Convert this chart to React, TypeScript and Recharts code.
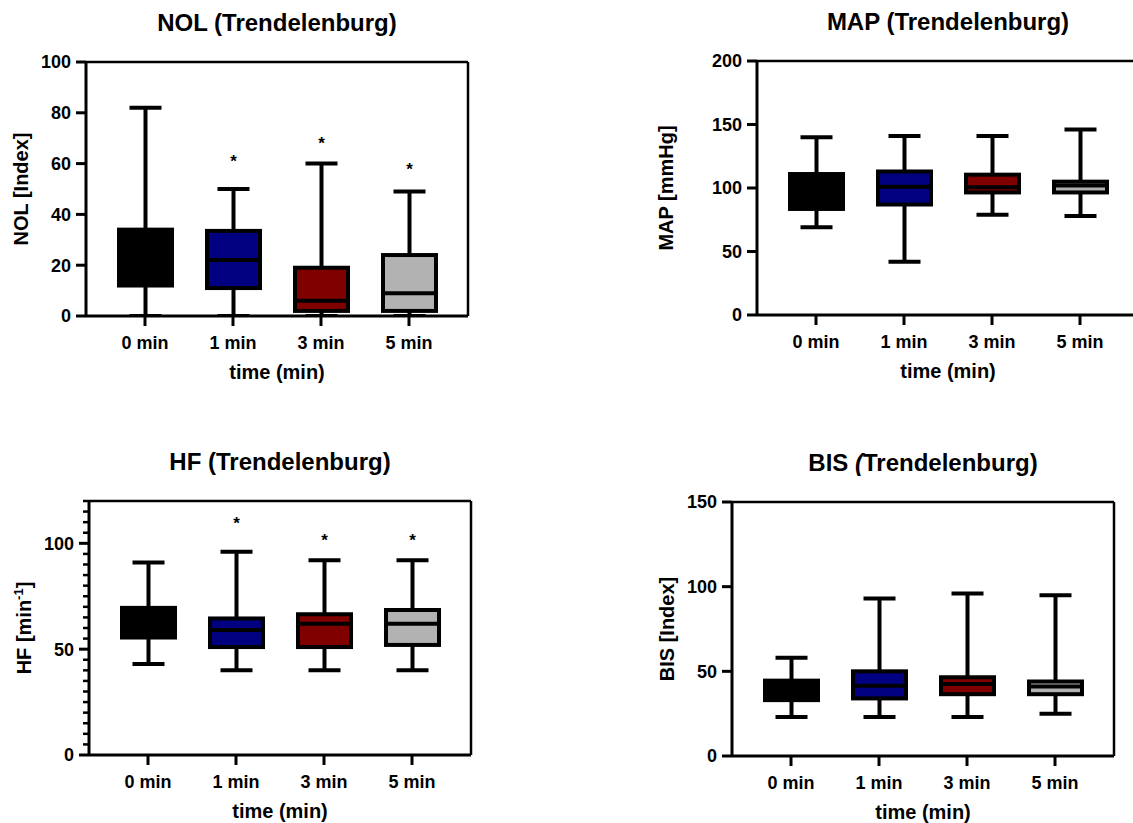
import React from 'react';
import { ComposedChart, Bar, XAxis, YAxis } from 'recharts';

const FONT = '"Liberation Sans", Arial, Helvetica, sans-serif';

const categories = ['0 min', '1 min', '3 min', '5 min'];
const boxFills = ['#000000', '#000080', '#800000', '#b2b2b2'];

// NOL (Trendelenburg)
const nolMin = [0, 0, 0, 0];
const nolQ1 = [12, 11, 2, 2];
const nolMedian = [22, 22, 6, 9];
const nolQ3 = [34, 33.5, 19, 24];
const nolMax = [82, 50, 60, 49];
const nolStar = [null, 62.7, 69.7, 59.4];
const nolTicks = [0, 20, 40, 60, 80, 100];

// MAP (Trendelenburg)
const mapMin = [69, 42, 79, 78];
const mapQ1 = [83.5, 87, 96.5, 96.5];
const mapMedian = [98, 101, 100.5, 102];
const mapQ3 = [111, 113, 110.5, 105];
const mapMax = [140, 141, 141, 146];
const mapStar = [null, null, null, null];
const mapTicks = [0, 50, 100, 150, 200];

// HF (Trendelenburg)
const hfMin = [43, 40, 40, 40];
const hfQ1 = [55.5, 51, 51, 52];
const hfMedian = [62, 59, 62, 62];
const hfQ3 = [69.5, 64.5, 66.5, 68.5];
const hfMax = [91, 96, 92, 92];
const hfStar = [null, 111.5, 103.3, 103.3];
const hfTicks = [0, 5, 10, 15, 20, 25, 30, 35, 40, 45, 50, 55, 60, 65, 70, 75, 80, 85, 90, 95, 100, 105, 110, 115, 120];
const hfMajorTicks = [0, 50, 100];

// BIS (Trendelenburg)
const bisMin = [23, 23, 23, 25];
const bisQ1 = [33, 34, 36.5, 36.5];
const bisMedian = [39, 41.5, 42.5, 41];
const bisQ3 = [44.5, 50, 46.5, 44];
const bisMax = [58, 93, 96, 95];
const bisStar = [null, null, null, null];
const bisTicks = [0, 50, 100, 150];

type Row = {
  cat: string;
  min: number;
  q1: number;
  med: number;
  q3: number;
  max: number;
  star: number | null;
  fill: string;
};

function buildRows(
  min: number[],
  q1: number[],
  med: number[],
  q3: number[],
  max: number[],
  star: (number | null)[]
): Row[] {
  return categories.map((cat, i) => ({
    cat,
    min: min[i],
    q1: q1[i],
    med: med[i],
    q3: q3[i],
    max: max[i],
    star: star[i],
    fill: boxFills[i],
  }));
}

function BoxShape(props: any) {
  const { x, y, width, height, payload } = props;
  const { min, q1, med, q3, max, star, fill } = payload as Row;
  const top = Math.min(y, y + height);
  const h = Math.abs(height);
  const toY = (v: number) => top + (h * (max - v)) / (max - min);
  const cx = x + width / 2;
  const bw = width - 4;
  const bx = cx - bw / 2;
  const capHalf = 16;
  const yMax = toY(max);
  const yMin = toY(min);
  const yQ3 = toY(q3);
  const yQ1 = toY(q1);
  const yMed = toY(med);
  return (
    <g>
      <line x1={cx} x2={cx} y1={yMax} y2={yMin} stroke="#000" strokeWidth={4} />
      <line x1={cx - capHalf} x2={cx + capHalf} y1={yMax} y2={yMax} stroke="#000" strokeWidth={4} />
      <line x1={cx - capHalf} x2={cx + capHalf} y1={yMin} y2={yMin} stroke="#000" strokeWidth={4} />
      <rect x={bx} y={yQ3} width={bw} height={yQ1 - yQ3} fill={fill} stroke="#000" strokeWidth={4} />
      <line x1={bx} x2={bx + bw} y1={yMed} y2={yMed} stroke="#000" strokeWidth={4} />
      {star != null && (
        <text
          x={cx}
          y={toY(star) + 10}
          textAnchor="middle"
          fontFamily={FONT}
          fontWeight="bold"
          fontSize={17}
          fill="#000"
        >
          *
        </text>
      )}
    </g>
  );
}

function makeYTick(major: number[] | null) {
  return function YTick(props: any) {
    const { x, y, payload } = props;
    const v = payload.value;
    const isMajor = major == null || major.includes(v);
    const len = isMajor ? 10 : 6;
    return (
      <g>
        <line x1={x - len} x2={x} y1={y} y2={y} stroke="#000" strokeWidth={isMajor ? 3 : 2.5} />
        {isMajor && (
          <text
            x={x - 15}
            y={y}
            dy="0.355em"
            textAnchor="end"
            fontFamily={FONT}
            fontWeight="bold"
            fontSize={18}
            fill="#000"
          >
            {v}
          </text>
        )}
      </g>
    );
  };
}

type TitlePart = { text: string; italic?: boolean };
type LabelPart = { text: string; sup?: boolean };

type PanelProps = {
  plotLeft: number;
  plotTop: number;
  rows: Row[];
  domain: [number, number];
  ticks: number[];
  majorTicks: number[] | null;
  title: TitlePart[];
  yLabel: LabelPart[];
  yLabelOffset: number;
};

const ML = 112;
const MT = 62;
const PW = 382;
const PH = 254;
const XH = 70;
const MR = 10;

function Panel(p: PanelProps) {
  const W = ML + PW + MR;
  const H = MT + PH + XH;
  const renderTitle = (lp: any) => {
    const vb = lp.viewBox;
    return (
      <text
        x={vb.x + vb.width / 2}
        y={vb.y + vb.height - 31}
        textAnchor="middle"
        fontFamily={FONT}
        fontWeight="bold"
        fontSize={24}
        fill="#000"
      >
        {p.title.map((t, i) => (
          <tspan key={i} fontStyle={t.italic ? 'italic' : 'normal'}>
            {t.text}
          </tspan>
        ))}
      </text>
    );
  };
  const renderYLabel = (lp: any) => {
    const vb = lp.viewBox;
    const bx = vb.x + vb.width - p.yLabelOffset;
    const cy = vb.y + vb.height / 2;
    return (
      <text
        transform={`translate(${bx},${cy}) rotate(-90)`}
        textAnchor="middle"
        fontFamily={FONT}
        fontWeight="bold"
        fontSize={20}
        fill="#000"
      >
        {p.yLabel.map((t, i) =>
          t.sup ? (
            <tspan key={i} fontSize={13} dy={-8}>
              {t.text}
            </tspan>
          ) : (
            <tspan key={i} dy={i > 0 && p.yLabel[i - 1].sup ? 8 : 0}>
              {t.text}
            </tspan>
          )
        )}
      </text>
    );
  };
  const renderXLabel = (lp: any) => {
    const vb = lp.viewBox;
    return (
      <text
        x={vb.x + vb.width / 2}
        y={vb.y + 63}
        textAnchor="middle"
        fontFamily={FONT}
        fontWeight="bold"
        fontSize={20}
        fill="#000"
      >
        time (min)
      </text>
    );
  };
  return (
    <div style={{ position: 'absolute', left: p.plotLeft - ML, top: p.plotTop - MT }}>
      <ComposedChart
        width={W}
        height={H}
        data={p.rows}
        margin={{ top: MT - 1, right: MR - 1, bottom: 0, left: 0 }}
      >
        <XAxis
          xAxisId="bottom"
          dataKey="cat"
          height={XH}
          padding={{ left: 15, right: 15 }}
          tickSize={10}
          tickMargin={10}
          interval={0}
          tickLine={{ stroke: '#000', strokeWidth: 3 }}
          axisLine={{ stroke: '#000', strokeWidth: 3 }}
          tick={{ fill: '#000', fontSize: 18, fontWeight: 'bold', fontFamily: FONT }}
          label={{ content: renderXLabel }}
        />
        <XAxis
          xAxisId="top"
          orientation="top"
          dataKey="cat"
          height={1}
          tick={false}
          tickLine={false}
          axisLine={{ stroke: '#000', strokeWidth: 2.5 }}
          label={{ content: renderTitle }}
        />
        <YAxis
          yAxisId="left"
          width={ML}
          type="number"
          domain={p.domain}
          ticks={p.ticks}
          interval={0}
          allowDataOverflow
          tickSize={0}
          tickMargin={0}
          tickLine={false}
          tick={makeYTick(p.majorTicks)}
          axisLine={{ stroke: '#000', strokeWidth: 3 }}
          label={{ content: renderYLabel }}
        />
        <YAxis
          yAxisId="right"
          orientation="right"
          width={1}
          type="number"
          domain={[0, 1]}
          tick={false}
          tickLine={false}
          axisLine={{ stroke: '#000', strokeWidth: 2.5 }}
        />
        <Bar
          xAxisId="bottom"
          yAxisId="left"
          dataKey={(d: Row) => [d.min, d.max]}
          barSize={57}
          shape={BoxShape}
          isAnimationActive={false}
        />
      </ComposedChart>
    </div>
  );
}

const nolRows = buildRows(nolMin, nolQ1, nolMedian, nolQ3, nolMax, nolStar);
const mapRows = buildRows(mapMin, mapQ1, mapMedian, mapQ3, mapMax, mapStar);
const hfRows = buildRows(hfMin, hfQ1, hfMedian, hfQ3, hfMax, hfStar);
const bisRows = buildRows(bisMin, bisQ1, bisMedian, bisQ3, bisMax, bisStar);

export default function App() {
  return (
    <div
      style={{
        position: 'absolute',
        left: 0,
        top: 0,
        width: 1133,
        height: 823,
        overflow: 'hidden',
        background: '#fff',
      }}
    >
      <Panel
        plotLeft={86}
        plotTop={62}
        rows={nolRows}
        domain={[0, 100]}
        ticks={nolTicks}
        majorTicks={null}
        title={[{ text: 'NOL (Trendelenburg)' }]}
        yLabel={[{ text: 'NOL [Index]' }]}
        yLabelOffset={58}
      />
      <Panel
        plotLeft={757}
        plotTop={61}
        rows={mapRows}
        domain={[0, 200]}
        ticks={mapTicks}
        majorTicks={null}
        title={[{ text: 'MAP (Trendelenburg)' }]}
        yLabel={[{ text: 'MAP [mmHg]' }]}
        yLabelOffset={84}
      />
      <Panel
        plotLeft={89}
        plotTop={501}
        rows={hfRows}
        domain={[0, 120]}
        ticks={hfTicks}
        majorTicks={hfMajorTicks}
        title={[{ text: 'HF (Trendelenburg)' }]}
        yLabel={[{ text: 'HF [min' }, { text: '-1', sup: true }, { text: ']' }]}
        yLabelOffset={58}
      />
      <Panel
        plotLeft={732}
        plotTop={502}
        rows={bisRows}
        domain={[0, 150]}
        ticks={bisTicks}
        majorTicks={null}
        title={[{ text: 'BIS ' }, { text: '(', italic: true }, { text: 'Trendelenburg)' }]}
        yLabel={[{ text: 'BIS [Index]' }]}
        yLabelOffset={58}
      />
    </div>
  );
}
